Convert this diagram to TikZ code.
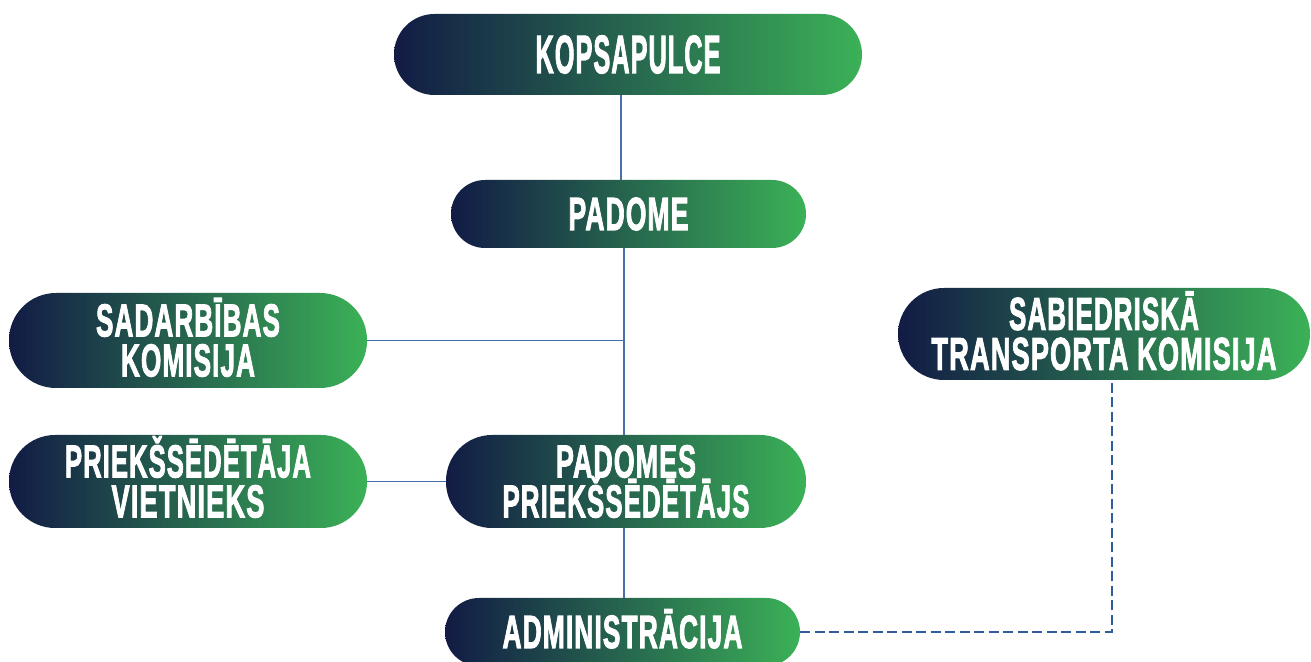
\documentclass[tikz,border=0pt]{standalone}
\usepackage{fontspec}
\setmainfont{Liberation Sans}
\newfontfamily\pf{Liberation Sans}[BoldFeatures={FakeBold=2.5,LetterSpace=4}]
\usepackage{graphicx}
\definecolor{navy}{HTML}{121B45}
\definecolor{grn}{HTML}{3BB157}
\definecolor{lnc}{HTML}{4A6EA8}
\definecolor{dsh}{HTML}{2E5C9C}
\newcommand\tl[2]{\raisebox{0pt}[\fontcharht\font`H][0pt]{\resizebox{#1}{\height}{#2}}}
\tikzset{
  pill/.style={rounded corners=#1, left color=navy, right color=grn, draw=none,
    inner sep=0pt, text=white, align=center},
  fbig/.style={font=\pf\bfseries\fontsize{53.8}{50}\selectfont},
  fmid/.style={font=\pf\bfseries\fontsize{46.5}{40}\selectfont},
  fsm/.style={font=\pf\bfseries\fontsize{46}{40}\selectfont},
  conn/.style={draw=lnc, line width=1.3pt},
  dconn/.style={draw=dsh, line width=2.8pt, dash pattern=on 10pt off 4.5pt}
}
\begin{document}
\begin{tikzpicture}[x=1pt,y=1pt]
\useasboundingbox (0,0) rectangle (1311,661);
\fill[white] (0,0) rectangle (1311,661);
\coordinate (v1) at (621,0);
\coordinate (v2) at (624,0);
\coordinate (v3) at (1112,0);
\node[pill=40.5pt, minimum width=468pt, minimum height=81pt, fbig] (kop) at (628,606.5) {\tl{185pt}{KOPSAPULCE}};
\node[pill=34pt, minimum width=355pt, minimum height=68pt, fmid] (pad) at (628.5,447) {\tl{120pt}{PADOME}};
\node[pill=47pt, minimum width=358pt, minimum height=95pt, fsm] (sad) at (188,320.5) {\tl{184pt}{SADARBĪBAS}\\\tl{134pt}{KOMISIJA}};
\node[pill=46pt, minimum width=358pt, minimum height=93pt, fsm] (pv) at (188,179.5) {\tl{246pt}{PRIEKŠSĒDĒTĀJA}\\\tl{153pt}{VIETNIEKS}};
\node[pill=46pt, minimum width=360pt, minimum height=93pt, fsm] (pc) at (626,179.5) {\tl{140pt}{PADOMES}\\\tl{247pt}{PRIEKŠSĒDĒTĀJS}};
\node[pill=34pt, minimum width=355pt, minimum height=68pt, fmid] (adm) at (622.5,29) {\tl{240pt}{ADMINISTRĀCIJA}};
\node[pill=46pt, minimum width=412pt, minimum height=92pt, fsm] (sab) at (1104,327) {\tl{190pt}{SABIEDRISKĀ}\\\tl{345pt}{TRANSPORTA KOMISIJA}};
\draw[conn] (kop.south -| v1) -- (pad.north -| v1);
\draw[conn] (pad.south -| v2) -- (pc.north -| v2);
\draw[conn] (sad.east) -- (sad.east -| v2);
\draw[conn] (pv.east) -- (pc.west);
\draw[conn] (pc.south -| v2) -- (adm.north -| v2);
\draw[dconn] (adm.east) -- (adm.east -| v3) -- (sab.south -| v3);
\end{tikzpicture}
\end{document}
